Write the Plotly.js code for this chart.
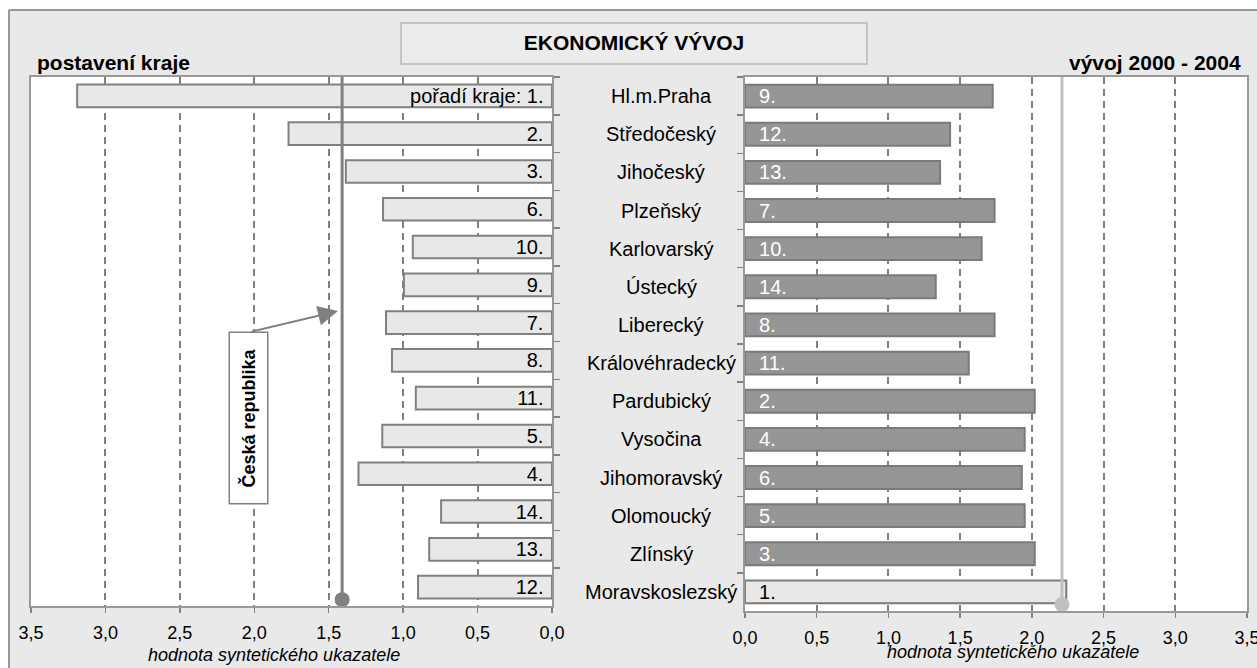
<!DOCTYPE html>
<html>
<head>
<meta charset="utf-8">
<script src="https://cdn.plot.ly/plotly-3.0.1.min.js"></script>
<style>html,body{margin:0;padding:0;background:#fff;}#chart{width:1257px;height:668px;}</style>
</head>
<body>
<div id="chart"></div>
<script>
// ---- data ----
var regions = ['Hl.m.Praha','Středočeský','Jihočeský','Plzeňský','Karlovarský','Ústecký','Liberecký','Královéhradecký','Pardubický','Vysočina','Jihomoravský','Olomoucký','Zlínský','Moravskoslezský'];
var positionValues = [3.19, 1.77, 1.385, 1.135, 0.935, 0.995, 1.115, 1.075, 0.915, 1.14, 1.30, 0.745, 0.825, 0.90];
var positionRank = ['pořadí kraje: 1.','2.','3.','6.','10.','9.','7.','8.','11.','5.','4.','14.','13.','12.'];
var developmentValues = [1.727, 1.43, 1.36, 1.74, 1.65, 1.33, 1.74, 1.56, 2.02, 1.95, 1.93, 1.95, 2.02, 2.24];
var developmentRank = ['9.','12.','13.','7.','10.','14.','8.','11.','2.','4.','6.','5.','3.','1.'];
var crPosition = 1.41;
var crDevelopment = 2.21;
var xTicks = [0, 0.5, 1, 1.5, 2, 2.5, 3, 3.5];

// ---- styles ----
var FONT = 'Liberation Sans, Arial, sans-serif';
var W = 1257, H = 668;
function px(x){ return x / W; }
function py(y){ return 1 - y / H; }

var devColors = developmentRank.map(function(r){ return r === '1.' ? '#e8e8e8' : '#969696'; });
var devTextColors = developmentRank.map(function(r){ return r === '1.' ? '#000000' : '#ffffff'; });

var traces = [
  {
    type: 'bar', orientation: 'h', x: positionValues, y: regions,
    xaxis: 'x', yaxis: 'y',
    marker: {color: '#e8e8e8', line: {color: '#808080', width: 2}},
    text: positionRank.map(function(t){ return t + '\u00a0'; }),
    textposition: 'inside', insidetextanchor: 'start', textangle: 0, constraintext: 'none',
    textfont: {family: FONT, size: 20, color: '#000'},
    hoverinfo: 'none', showlegend: false
  },
  {
    type: 'bar', orientation: 'h', x: developmentValues, y: regions,
    xaxis: 'x2', yaxis: 'y2',
    marker: {color: devColors, line: {color: '#7a7a7a', width: 2}},
    text: developmentRank.map(function(t){ return '\u00a0\u00a0' + t; }),
    textposition: 'inside', insidetextanchor: 'start', textangle: 0, constraintext: 'none',
    textfont: {family: FONT, size: 20, color: devTextColors},
    hoverinfo: 'none', showlegend: false
  },
  {
    type: 'scatter', mode: 'lines+markers', x: [crPosition, crPosition], y: [0.012, 1.003],
    xaxis: 'x', yaxis: 'y3', cliponaxis: false,
    line: {color: '#808080', width: 3}, marker: {color: '#808080', size: 15},
    hoverinfo: 'none', showlegend: false
  },
  {
    type: 'scatter', mode: 'lines+markers', x: [crDevelopment, crDevelopment], y: [0.012, 1.003],
    xaxis: 'x2', yaxis: 'y4', cliponaxis: false,
    line: {color: '#c0c0c0', width: 3}, marker: {color: '#c0c0c0', size: 15},
    hoverinfo: 'none', showlegend: false
  }
];

var xCommon = {
  tickvals: xTicks, tickformat: '.1f', ticks: 'outside', ticklen: 5, tickwidth: 1.5, tickcolor: '#808080',
  showline: true, mirror: true, linecolor: '#999999', linewidth: 2,
  showgrid: true, gridcolor: '#808080', gridwidth: 2, griddash: '7px,5px',
  zeroline: false, fixedrange: true, ticklabelstandoff: 4, ticklabeloverflow: 'allow',
  tickfont: {family: FONT, size: 18, color: '#000'}
};
function clone(o){ return JSON.parse(JSON.stringify(o)); }

var xaxis = clone(xCommon);
xaxis.domain = [px(31), px(552)]; xaxis.range = [3.5, 0]; xaxis.anchor = 'y';
var xaxis2 = clone(xCommon);
xaxis2.domain = [px(745), px(1247)]; xaxis2.range = [0, 3.5]; xaxis2.anchor = 'y2';

var yCommon = {
  type: 'category', autorange: 'reversed', showticklabels: false,
  ticks: 'outside', tickson: 'boundaries', ticklen: 6, tickwidth: 1.5, tickcolor: '#808080',
  showline: true, mirror: true, linecolor: '#999999', linewidth: 2,
  showgrid: false, zeroline: false, fixedrange: true
};
var yaxis = clone(yCommon);
yaxis.domain = [py(606), py(77)]; yaxis.side = 'right'; yaxis.anchor = 'x';
var yaxis2 = clone(yCommon);
yaxis2.domain = [py(611), py(77)]; yaxis2.side = 'left'; yaxis2.anchor = 'x2';

var annotations = [];
regions.forEach(function(r){
  annotations.push({xref: 'paper', yref: 'y2', x: px(661), y: r, text: r, showarrow: false,
    xanchor: 'center', yanchor: 'middle', font: {family: FONT, size: 20, color: '#000'}});
});
annotations.push({xref: 'paper', yref: 'paper', x: px(35), y: py(62), text: '<b>postavení kraje</b>',
  showarrow: false, xanchor: 'left', yanchor: 'middle', font: {family: FONT, size: 21, color: '#000'}});
annotations.push({xref: 'paper', yref: 'paper', x: px(1243), y: py(62), text: '<b>vývoj 2000 - 2004</b>',
  showarrow: false, xanchor: 'right', yanchor: 'middle', font: {family: FONT, size: 21, color: '#000'}});
annotations.push({xref: 'paper', yref: 'paper', x: px(274), y: py(655), text: '<i>hodnota syntetického ukazatele</i>',
  showarrow: false, xanchor: 'center', yanchor: 'middle', font: {family: FONT, size: 18, color: '#000'}});
annotations.push({xref: 'paper', yref: 'paper', x: px(1013), y: py(652), text: '<i>hodnota syntetického ukazatele</i>',
  showarrow: false, xanchor: 'center', yanchor: 'middle', font: {family: FONT, size: 18, color: '#000'}});
annotations.push({xref: 'paper', yref: 'paper', x: px(248.5), y: py(418), text: '<b>Česká republika</b>',
  textangle: -90, showarrow: false, xanchor: 'center', yanchor: 'middle',
  width: 162, height: 29, borderpad: 4, bordercolor: '#808080', borderwidth: 1.5, bgcolor: '#ffffff',
  font: {family: FONT, size: 18, color: '#000'}});
annotations.push({xref: 'paper', yref: 'paper', x: px(338), y: py(311), text: '',
  showarrow: true, ax: -88, ay: 21, arrowhead: 2, arrowsize: 2, arrowwidth: 2, arrowcolor: '#808080', standoff: 0});

var shapes = [
  {type: 'rect', xref: 'paper', yref: 'paper', x0: 0, x1: px(8), y0: 0, y1: 1, fillcolor: '#ffffff', line: {width: 0}, layer: 'below'},
  {type: 'rect', xref: 'paper', yref: 'paper', x0: 0, x1: 1, y0: py(9), y1: 1, fillcolor: '#ffffff', line: {width: 0}, layer: 'below'},
  {type: 'line', xref: 'paper', yref: 'paper', x0: px(9), x1: px(9), y0: 0, y1: py(10), line: {color: '#999999', width: 2}},
  {type: 'line', xref: 'paper', yref: 'paper', x0: px(9), x1: 1, y0: py(10), y1: py(10), line: {color: '#999999', width: 2}},
  {type: 'rect', xref: 'paper', yref: 'paper', x0: px(401), x1: px(867), y0: py(64), y1: py(23), fillcolor: '#ececec', line: {color: '#c4c4c4', width: 2}, layer: 'below'}
];

var layout = {
  width: W, height: H, autosize: false,
  margin: {l: 0, r: 0, t: 0, b: 0, pad: 0},
  paper_bgcolor: '#e9e9e9', plot_bgcolor: '#ffffff',
  separators: ', ',
  font: {family: FONT, color: '#000'},
  title: {text: '<b>EKONOMICKÝ VÝVOJ</b>', x: px(634), xanchor: 'center', y: py(43), yanchor: 'middle',
    xref: 'paper', yref: 'paper', font: {family: FONT, size: 21, color: '#000'}},
  bargap: 0.4, showlegend: false,
  xaxis: xaxis, xaxis2: xaxis2, yaxis: yaxis, yaxis2: yaxis2,
  yaxis3: {overlaying: 'y', domain: yaxis.domain, range: [0, 1], visible: false, fixedrange: true, anchor: 'x'},
  yaxis4: {overlaying: 'y2', domain: yaxis2.domain, range: [0, 1], visible: false, fixedrange: true, anchor: 'x2'},
  annotations: annotations, shapes: shapes
};

Plotly.newPlot('chart', traces, layout, {displayModeBar: false, staticPlot: true});
</script>
</body>
</html>
